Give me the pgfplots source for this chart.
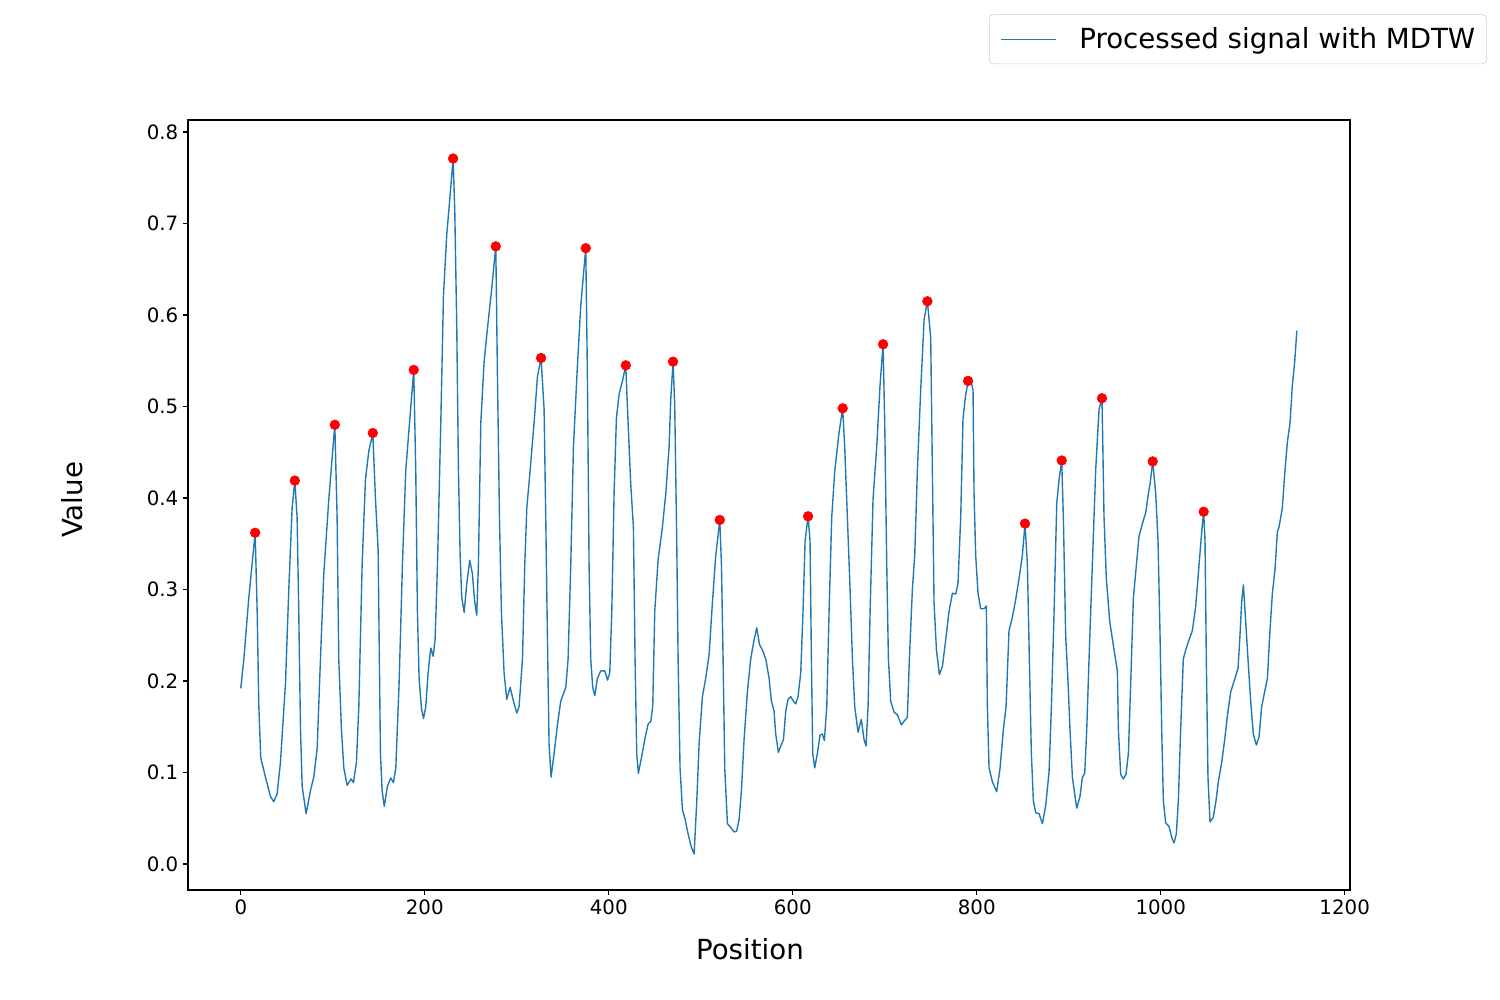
\documentclass[border=0pt]{standalone}
\usepackage{fontspec}
\setmainfont{DejaVu Sans}
\usepackage{pgfplots}
\pgfplotsset{compat=1.18}
\definecolor{tabblue}{HTML}{1F77B4}
\begin{document}
\begin{tikzpicture}
\path[use as bounding box] (0,0) rectangle (15in,10in);
\begin{axis}[
  at={(1.88in,1.10in)}, anchor=south west,
  scale only axis, width=11.62in, height=7.70in,
  xmin=-57.4, xmax=1205.8, ymin=-0.0284, ymax=0.8131,
  xtick={0,200,400,600,800,1000,1200},
  ytick={0,0.1,0.2,0.3,0.4,0.5,0.6,0.7,0.8},
  xtick pos=lower, ytick pos=left,
  tick align=outside, major tick length=3.5pt,
  every tick/.style={black, line width=0.8pt},
  axis line style={line width=0.8pt},
  /pgf/number format/assume math mode=true,
  ticklabel style={font=\fontsize{14.3}{17}\selectfont},
  xticklabel style={/pgf/number format/1000 sep={}},
  yticklabel style={/pgf/number format/.cd, fixed, fixed zerofill, precision=1},
  xlabel={Position},
  xlabel style={at={(0.4836,-0.0909)}, anchor=base, font=\fontsize{20}{24}\selectfont},
  ylabel={Value},
  ylabel style={at={(-0.0994,0.5065)}, anchor=center, font=\fontsize{20}{24}\selectfont},
  legend style={at={(1.1176,1.1373)}, anchor=north east, draw=black!20, rounded corners=3pt,
    fill=white, font=\fontsize{20}{24}\selectfont, inner xsep=8pt, inner ysep=9.5pt,
    column sep=16pt, nodes={inner sep=0pt}},
  legend image code/.code={\draw[#1, line width=1pt] (0pt,0pt) -- (40pt,0pt);},
]
\addplot[only marks, mark=*, mark size=3.5pt, color=red, forget plot] coordinates {
(15.6,0.362) (58.7,0.419) (102.2,0.480) (143.5,0.471) (188.0,0.540) (230.8,0.771)
(277.2,0.675) (326.4,0.553) (375.0,0.673) (418.5,0.545) (469.9,0.549) (520.7,0.376)
(616.7,0.380) (654.3,0.498) (698.2,0.568) (746.4,0.615) (790.6,0.528) (852.5,0.372)
(892.4,0.441) (936.2,0.509) (991.3,0.440) (1046.7,0.385)
};
\addplot[color=tabblue, line width=1pt, line join=round, mark=none] coordinates {
(0,0.192) (3.3,0.224) (8.7,0.291) (15.6,0.362) (17.8,0.276) (19.6,0.172) (21.7,0.116)
(26.8,0.095) (32.2,0.074) (35.9,0.068) (39.5,0.077) (43.1,0.111) (48.6,0.198) (52.2,0.301)
(55.8,0.389) (58.7,0.419) (61.2,0.379) (63.0,0.276) (64.9,0.147) (66.7,0.085) (71.0,0.055)
(75.7,0.080) (79.3,0.095) (83.0,0.126) (86.6,0.224) (90.2,0.317) (95.7,0.399) (102.2,0.480)
(104.7,0.379) (106.5,0.224) (109.4,0.147) (112.0,0.105) (115.6,0.086) (119.9,0.093)
(122.5,0.089) (125.7,0.111) (128.3,0.172) (131.9,0.327) (135.5,0.420) (139.1,0.451)
(143.5,0.471) (146.4,0.399) (149.3,0.343) (151.8,0.121) (153.6,0.080) (156.0,0.063)
(159.4,0.085) (163.0,0.094) (165.9,0.089) (168.5,0.105) (172.1,0.198) (175.7,0.327)
(179.3,0.430) (183.0,0.477) (188.0,0.540) (190.2,0.430) (192.0,0.276) (193.8,0.203)
(196.4,0.170) (198.6,0.159) (201.1,0.172) (203.6,0.209) (206.5,0.236) (209.1,0.227)
(211.2,0.245) (213.8,0.327) (217.4,0.482) (220.3,0.621) (223.9,0.688) (228.3,0.740)
(230.8,0.771) (232.6,0.714) (234.8,0.585) (236.6,0.430) (238.4,0.338) (240.2,0.291)
(242.8,0.275) (245.7,0.307) (248.9,0.332) (251.8,0.317) (254.3,0.286) (256.5,0.272)
(258.3,0.327) (260.9,0.482) (264.5,0.549) (268.1,0.585) (272.5,0.626) (277.2,0.675)
(279.0,0.533) (281.2,0.379) (283.3,0.276) (286.2,0.209) (289.1,0.180) (292.8,0.193)
(296.4,0.178) (300.0,0.165) (302.5,0.172) (306.2,0.224) (308.7,0.327) (310.9,0.389)
(314.5,0.430) (318.8,0.482) (322.5,0.533) (326.4,0.553) (329.7,0.497) (331.5,0.379)
(333.3,0.250) (335.1,0.131) (337.3,0.095) (340.6,0.121) (344.2,0.152) (347.8,0.178)
(353.3,0.193) (355.8,0.224) (358.7,0.327) (361.6,0.456) (365.9,0.544) (369.6,0.611)
(375.0,0.673) (376.8,0.533) (378.6,0.327) (380.4,0.224) (382.6,0.193) (384.8,0.184)
(387.7,0.203) (391.3,0.211) (395.7,0.211) (398.6,0.201) (401.1,0.209) (403.3,0.276)
(405.8,0.405) (408.3,0.487) (411.2,0.513) (414.9,0.528) (418.5,0.545) (421.0,0.482)
(423.9,0.415) (426.8,0.368) (428.6,0.224) (430.4,0.121) (432.2,0.099) (435.5,0.116)
(439.1,0.136) (442.8,0.153) (445.7,0.156) (447.8,0.172) (450.0,0.276) (453.6,0.332)
(458.3,0.368) (462.0,0.405) (465.6,0.456) (467.4,0.508) (469.9,0.549) (471.7,0.502)
(473.9,0.353) (475.4,0.224) (477.5,0.105) (480.1,0.059) (483.0,0.049) (486.2,0.033)
(489.9,0.018) (492.8,0.011) (495.7,0.069) (498.2,0.131) (501.8,0.183) (505.4,0.203)
(509.1,0.229) (512.7,0.286) (516.3,0.337) (520.7,0.376) (522.5,0.327) (524.3,0.224)
(526.1,0.105) (529.0,0.044) (532.6,0.040) (536.2,0.035) (539.1,0.036) (541.7,0.049)
(544.2,0.080) (547.1,0.136) (550.7,0.188) (554.3,0.224) (558.0,0.245) (560.9,0.258)
(563.8,0.240) (567.4,0.233) (570.7,0.224) (574.3,0.203) (576.8,0.178) (579.7,0.167)
(581.5,0.142) (584.4,0.122) (587.0,0.129) (589.9,0.136) (592.4,0.167) (594.9,0.180)
(597.8,0.183) (600.7,0.178) (603.3,0.175) (605.8,0.183) (608.7,0.209) (611.2,0.276)
(613.4,0.353) (616.7,0.380) (618.8,0.353) (620.3,0.224) (621.7,0.121) (623.9,0.105)
(626.8,0.121) (629.7,0.141) (632.2,0.142) (634.4,0.135) (637.0,0.172) (639.5,0.276)
(642.4,0.379) (645.7,0.430) (650.4,0.472) (654.3,0.498) (656.5,0.456) (659.4,0.379)
(662.3,0.301) (664.9,0.224) (667.4,0.172) (671.0,0.144) (674.6,0.158) (677.5,0.136)
(679.7,0.129) (681.9,0.172) (684.1,0.276) (687.3,0.399) (691.3,0.456) (694.9,0.523)
(698.2,0.568) (700.0,0.482) (702.2,0.327) (704.0,0.224) (706.5,0.178) (710.1,0.166)
(713.8,0.163) (718.1,0.152) (721.7,0.157) (724.6,0.160) (726.8,0.224) (730.1,0.301)
(732.6,0.337) (735.5,0.430) (739.1,0.518) (742.8,0.595) (746.4,0.615) (750.0,0.575)
(751.8,0.430) (753.6,0.286) (756.2,0.234) (759.4,0.207) (762.7,0.216) (766.3,0.245)
(769.9,0.276) (773.6,0.296) (777.2,0.295) (779.7,0.307) (782.6,0.379) (785.1,0.487)
(788.0,0.513) (790.6,0.527) (794.2,0.526) (796.0,0.518) (797.1,0.405) (798.9,0.337)
(801.4,0.296) (804.3,0.279) (808.0,0.279) (810.5,0.282) (811.6,0.172) (813.4,0.105)
(817.0,0.090) (821.7,0.079) (825.4,0.105) (829.0,0.147) (831.9,0.172) (835.1,0.255)
(838.8,0.270) (842.4,0.289) (846.0,0.312) (849.6,0.337) (852.5,0.372) (855.1,0.327)
(857.2,0.224) (859.4,0.121) (861.6,0.069) (864.1,0.056) (867.8,0.055) (871.4,0.044)
(875.0,0.064) (878.6,0.100) (881.2,0.172) (884.1,0.276) (887.0,0.394) (889.5,0.420)
(892.4,0.441) (894.2,0.379) (896.7,0.250) (899.3,0.198) (901.4,0.147) (904.0,0.095)
(908.7,0.061) (912.3,0.074) (914.9,0.095) (917.4,0.099) (919.6,0.147) (922.1,0.224)
(925.7,0.327) (929.3,0.430) (933.0,0.497) (936.2,0.509) (938.4,0.379) (940.9,0.312)
(944.6,0.265) (949.3,0.234) (952.9,0.211) (954.0,0.147) (956.5,0.098) (959.4,0.093)
(962.3,0.098) (964.9,0.121) (967.4,0.198) (970.3,0.291) (973.6,0.327) (976.4,0.358)
(980.1,0.372) (983.7,0.384) (986.6,0.405) (988.4,0.415) (991.3,0.440) (994.6,0.405)
(997.1,0.353) (999.3,0.250) (1001.1,0.147) (1002.9,0.069) (1005.4,0.045) (1009.1,0.041)
(1012.0,0.029) (1014.5,0.023) (1017.0,0.033) (1019.2,0.069) (1021.7,0.147) (1024.6,0.224)
(1027.2,0.234) (1030.8,0.245) (1034.4,0.255) (1038.0,0.281) (1041.7,0.327) (1044.6,0.363)
(1046.7,0.385) (1048.2,0.353) (1049.6,0.224) (1051.4,0.095) (1053.6,0.046) (1057.2,0.051)
(1060.1,0.069) (1062.7,0.090) (1066.3,0.111) (1069.6,0.136) (1072.5,0.162) (1076.1,0.188)
(1080.4,0.202) (1084.1,0.214) (1086.2,0.250) (1088.0,0.286) (1089.9,0.305) (1092.4,0.265)
(1094.9,0.224) (1097.8,0.178) (1100.7,0.142) (1104.0,0.130) (1106.9,0.139) (1109.8,0.172)
(1113.0,0.188) (1116.0,0.203) (1118.5,0.250) (1121.4,0.296) (1124.3,0.322) (1126.8,0.363)
(1128.6,0.368) (1132.2,0.389) (1135.1,0.430) (1137.7,0.461) (1140.6,0.482) (1143.1,0.523)
(1145.7,0.549) (1148.0,0.583)
};
\addlegendentry{Processed signal with MDTW}
\end{axis}
\end{tikzpicture}
\end{document}
